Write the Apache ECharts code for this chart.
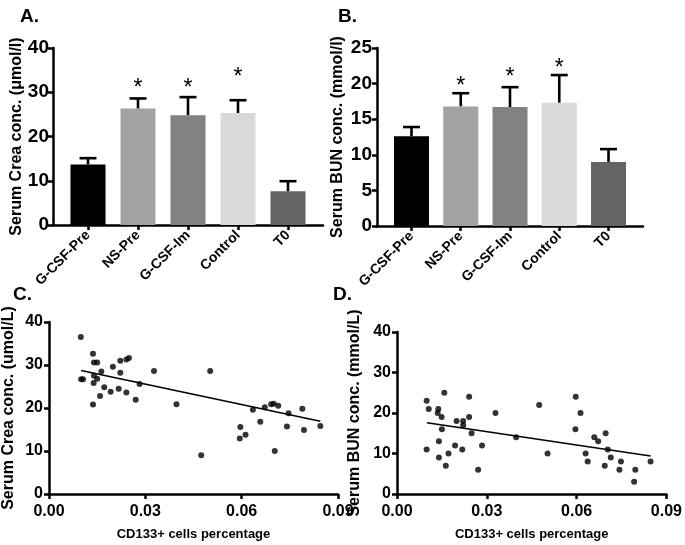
<!DOCTYPE html>
<html>
<head>
<meta charset="utf-8">
<script src="https://cdn.jsdelivr.net/npm/echarts@6/dist/echarts.min.js"></script>
<style>
  html, body { margin: 0; padding: 0; background: #fff; }
  #chart { width: 685px; height: 545px; }
</style>
</head>
<body>
<div id="chart"></div>
<script>
// groups in the bar panels
const categories = ['G-CSF-Pre', 'NS-Pre', 'G-CSF-Im', 'Control', 'T0']
const barColors = ['#000000', '#a2a2a2', '#828282', '#d9d9d9', '#646464']

// A. serum creatinine, mean / SD / asterisk height
const creaMean = [13.7, 26.3, 24.8, 25.3, 7.6]
const creaSD = [1.4, 2.3, 4.1, 2.9, 2.3]
const creaStar = [null, 31.7, 31.7, 34.3, null]

// B. serum BUN
const bunMean = [12.6, 16.8, 16.7, 17.3, 9.0]
const bunSD = [1.3, 1.85, 2.8, 3.9, 1.8]
const bunStar = [null, 20.2, 21.4, 22.6, null]

// C. CD133+ percentage vs creatinine
const creaX = [0.0099, 0.0100, 0.0106, 0.0137, 0.0140, 0.0150, 0.0140, 0.0150, 0.0139, 0.0163,
  0.0137, 0.0159, 0.0172, 0.0199, 0.0192, 0.0222, 0.0222, 0.0217, 0.0241, 0.0249,
  0.0241, 0.0270, 0.0282, 0.0327, 0.0397, 0.0474, 0.0502, 0.0596, 0.0594, 0.0612,
  0.0635, 0.0658, 0.0672, 0.0692, 0.0700, 0.0714, 0.0703, 0.0746, 0.0741, 0.0789,
  0.0794, 0.0845]
const creaY = [36.5, 26.7, 26.7, 32.6, 30.6, 30.6, 27.5, 26.8, 25.8, 28.5,
  20.8, 22.8, 24.8, 29.6, 23.8, 31.0, 28.2, 24.5, 31.3, 31.6,
  23.6, 21.9, 25.6, 28.6, 20.9, 9.0, 28.6, 15.6, 12.9, 13.8,
  19.6, 16.8, 20.2, 20.9, 21.0, 20.5, 10.0, 18.8, 15.7, 19.8,
  14.9, 15.8]
const creaFitX = [0.0100, 0.0845]
const creaFitY = [28.7, 16.9]

// D. CD133+ percentage vs BUN
const bunX = [0.0099, 0.0106, 0.0099, 0.0138, 0.0136, 0.0149, 0.0158, 0.0150, 0.0140, 0.0140,
  0.0163, 0.0172, 0.0194, 0.0199, 0.0218, 0.0221, 0.0221, 0.0241, 0.0241, 0.0249,
  0.0271, 0.0284, 0.0329, 0.0398, 0.0475, 0.0503, 0.0597, 0.0596, 0.0613, 0.0630,
  0.0637, 0.0659, 0.0672, 0.0697, 0.0694, 0.0704, 0.0714, 0.0748, 0.0743, 0.0792,
  0.0796, 0.0847]
const bunY = [23, 21, 11, 21, 20, 19, 25, 16, 13, 9,
  7, 10, 12, 18, 11, 18, 17, 24, 19, 15,
  6, 12, 20, 14, 22, 10, 24, 16, 20, 10,
  8, 14, 13, 15, 7, 11, 9, 8, 6, 3,
  6, 8]
const bunFitX = [0.0100, 0.0847]
const bunFitY = [17.6, 9.4]

const FONT = '"Liberation Sans", Arial, sans-serif'
const AXIS_LINE = { show: true, onZero: false, lineStyle: { color: '#000', width: 2.5 } }
const AXIS_TICK = { show: true, length: 5, lineStyle: { color: '#000', width: 2.5 } }

const chart = echarts.init(document.getElementById('chart'))

function pairs(xs, ys) {
  return xs.map((x, i) => [x, ys[i]])
}

function errorBars(params, api) {
  const base = api.coord([api.value(0), api.value(1)])
  const top = api.coord([api.value(0), api.value(1) + api.value(2)])
  const half = 8.5
  const st = { stroke: '#000', lineWidth: 2.6 }
  return {
    type: 'group',
    children: [
      { type: 'line', shape: { x1: base[0], y1: base[1], x2: top[0], y2: top[1] }, style: st },
      { type: 'line', shape: { x1: top[0] - half, y1: top[1], x2: top[0] + half, y2: top[1] }, style: st }
    ]
  }
}

function stars(params, api) {
  const p = api.coord([api.value(0), api.value(1)])
  return {
    type: 'text',
    style: {
      text: '*', x: p[0], y: p[1] + 4, align: 'center', verticalAlign: 'middle',
      fontSize: 23, fontFamily: FONT, fill: '#000'
    }
  }
}

function barPanel(idx, mean, sd, star) {
  const data = mean.map((v, i) => ({ value: [i, v], itemStyle: { color: barColors[i] } }))
  return [
    {
      type: 'bar', xAxisIndex: idx, yAxisIndex: idx, barWidth: 35,
      data: data
    },
    {
      type: 'custom', xAxisIndex: idx, yAxisIndex: idx, renderItem: errorBars, z: 1,
      data: mean.map((v, i) => [i, v, sd[i]])
    },
    {
      type: 'custom', xAxisIndex: idx, yAxisIndex: idx, renderItem: stars,
      data: star.map((v, i) => [i, v]).filter(d => d[1] !== null)
    }
  ]
}

function scatterPanel(idx, xs, ys, fx, fy) {
  return [
    {
      type: 'scatter', xAxisIndex: idx, yAxisIndex: idx, symbolSize: 6,
      itemStyle: { color: '#000' },
      data: pairs(xs, ys)
    },
    {
      type: 'line', xAxisIndex: idx, yAxisIndex: idx, symbol: 'none',
      lineStyle: { color: '#000', width: 1.6 },
      data: pairs(fx, fy)
    }
  ]
}

function catAxis(grid) {
  return {
    type: 'value', gridIndex: grid, min: -0.7, max: 4.7,
    splitLine: { show: false },
    axisLine: AXIS_LINE,
    axisTick: { ...AXIS_TICK, customValues: [0, 1, 2, 3, 4] },
    axisLabel: {
      customValues: [0, 1, 2, 3, 4], rotate: 45, margin: 8,
      fontSize: 14, fontWeight: 'bold', fontFamily: FONT, color: '#000',
      formatter: v => categories[Math.round(v)]
    }
  }
}

function pctAxis(grid) {
  return {
    type: 'value', gridIndex: grid, min: 0, max: 0.09, interval: 0.03,
    name: 'CD133+ cells percentage', nameLocation: 'middle', nameGap: 34, nameMoveOverlap: false,
    nameTextStyle: { fontSize: 13, fontWeight: 'bold', fontFamily: FONT, color: '#000' },
    splitLine: { show: false },
    axisLine: AXIS_LINE,
    axisTick: AXIS_TICK,
    axisLabel: {
      margin: 10, fontSize: 16, fontWeight: 'bold', fontFamily: FONT, color: '#000',
      formatter: v => v.toFixed(2)
    }
  }
}

function valAxis(grid, name, max, interval, gap, size, margin) {
  return {
    type: 'value', gridIndex: grid, min: 0, max: max, interval: interval,
    name: name, nameLocation: 'middle', nameGap: gap, nameMoveOverlap: false,
    nameTextStyle: { fontSize: 16, fontWeight: 'bold', fontFamily: FONT, color: '#000' },
    splitLine: { show: false },
    axisLine: AXIS_LINE,
    axisTick: AXIS_TICK,
    axisLabel: { margin: margin, fontSize: size, fontWeight: 'bold', fontFamily: FONT, color: '#000' }
  }
}

const panelTitle = (text, left, top) => ({
  text: text, left: left, top: top,
  textStyle: { fontSize: 19, fontWeight: 'bold', fontFamily: FONT, color: '#000' }
})

const option = {
  animation: false,
  backgroundColor: '#fff',
  title: [
    panelTitle('A.', 15, 2),
    panelTitle('B.', 333, 2),
    panelTitle('C.', 8, 280),
    panelTitle('D.', 328, 280)
  ],
  grid: [
    { left: 53, top: 48, width: 270, height: 177 },
    { left: 377, top: 48, width: 266, height: 178 },
    { left: 49, top: 322, width: 289, height: 172 },
    { left: 397, top: 332, width: 273, height: 162 }
  ],
  xAxis: [catAxis(0), catAxis(1), pctAxis(2), pctAxis(3)],
  yAxis: [
    valAxis(0, 'Serum Crea conc. (μmol/l)', 40, 10, 28, 19, 4),
    valAxis(1, 'Serum BUN conc. (mmol/l)', 25, 5, 31, 19, 5),
    valAxis(2, 'Serum Crea conc. (umol/L)', 40, 10, 32, 16, 6),
    valAxis(3, 'Serum BUN conc. (mmol/L)', 40, 10, 34, 16, 6)
  ],
  series: [
    ...barPanel(0, creaMean, creaSD, creaStar),
    ...barPanel(1, bunMean, bunSD, bunStar),
    ...scatterPanel(2, creaX, creaY, creaFitX, creaFitY),
    ...scatterPanel(3, bunX, bunY, bunFitX, bunFitY)
  ]
}

chart.setOption(option)
</script>
</body>
</html>
